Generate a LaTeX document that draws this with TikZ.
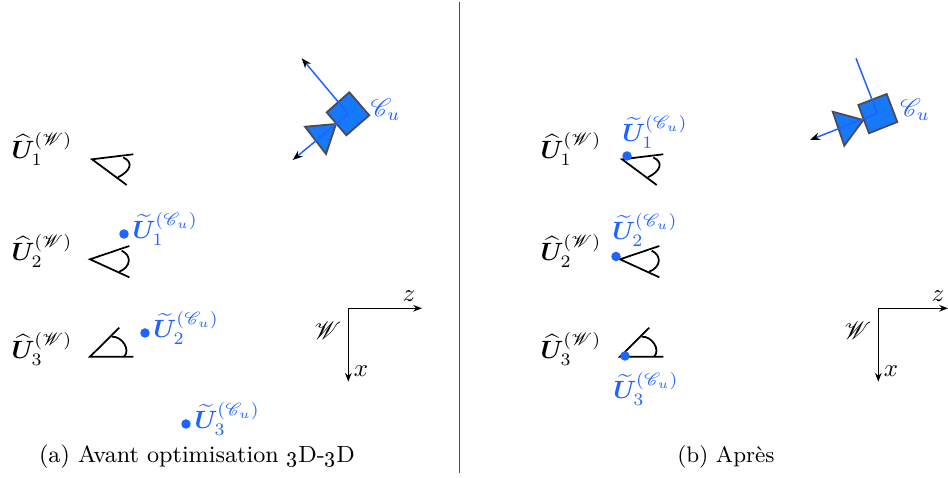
\documentclass[tikz,border=0pt]{standalone}
\usepackage{amsmath,amssymb}
\usepackage{bm}
\usepackage{mathrsfs}
\usepackage{xcolor}
\usepackage{tikz}
\usetikzlibrary{positioning,arrows.meta}
\definecolor{colPt}{RGB}{32,100,255}
\definecolor{colCam}{RGB}{22,120,250}
\definecolor{colEdge}{RGB}{75,75,80}
\newcommand{\UW}[1]{$\widehat{\bm{U}}_{#1}^{(\mathscr{W})}$}
\newcommand{\UC}[1]{$\widetilde{\bm{U}}_{#1}^{(\mathscr{C}_u)}$}

\begin{document}
\begin{tikzpicture}[
  x=0.4pt, y=-0.4pt,
  cam/.style={draw=colEdge, fill=colCam, line width=0.7pt, line join=miter},
  ray/.style={-{Stealth[length=4pt,black]}, colPt, line width=0.6pt},
  ax/.style={-{Stealth[length=3.5pt]}, black, line width=0.6pt},
  vis/.style={black, line width=0.7pt},
  ptdot/.style={circle, fill=colPt, inner sep=0pt, minimum size=3.8pt},
  lblU/.style={inner sep=0pt},
  lblC/.style={inner sep=0pt, text=colPt},
  capt/.style={inner sep=0pt, font=\small}
]
\useasboundingbox (0,0) rectangle (948,478);

\coordinate (sepT) at (459,2);
\coordinate (sepB) at (459,473);
\draw[colEdge, line width=0.4pt] (sepT) -- (sepB);

% panel (a)
\node[lblU] (ua1) at (42,149) {\UW{1}};
\node[lblU] (ua2) at (42,251) {\UW{2}};
\node[lblU] (ua3) at (42,349) {\UW{3}};

\draw[vis] (133.3,154.3) -- (92,159.3) -- (126.7,185);
\draw[vis] (123.3,157.5) .. controls (134.3,162.5) and (130,171.3) .. (118,177.3);
\draw[vis] (129.3,246) -- (90,259.3) -- (129.3,277.3);
\draw[vis] (121.7,250.7) .. controls (132,255.5) and (131,267) .. (119.3,271.7);
\draw[vis] (119.3,327.7) -- (90,356.7) -- (133.3,356.7);
\draw[vis] (111.7,336.7) .. controls (122,336) and (131,350) .. (124,356.7);

\node[ptdot] (pa1) at (124,234) {};
\node[ptdot] (pa2) at (145,333) {};
\node[ptdot] (pa3) at (186,424) {};
\node[lblC,right=3.2pt of pa1.center,anchor=west,yshift=2pt] (la1) {\UC{1}};
\node[lblC,right=3.2pt of pa2.center,anchor=west,yshift=2pt] (la2) {\UC{2}};
\node[lblC,right=3.2pt of pa3.center,anchor=west,yshift=2pt] (la3) {\UC{3}};

\coordinate (oa) at (348.3,114);
\coordinate (ra1) at (301.7,58.3);
\coordinate (ra2) at (292.7,160);
\draw[cam] (349.3,92.3) -- (369.3,115.3) -- (346.3,135.3) -- (326.7,112.3) -- cycle;
\draw[cam] (336,124) -- (305,126.7) -- (326,154) -- cycle;
\draw[ray] (oa) -- (ra1);
\draw[ray] (oa) -- (ra2);
\node[lblC] (cama) at (385.5,110) {$\mathscr{C}_u$};

\coordinate (wa) at (348.3,308.3);
\coordinate (wax) at (348.3,381.7);
\coordinate (waz) at (422,308.3);
\draw[ax] (wa) -- (wax);
\draw[ax] (wa) -- (waz);
\node[inner sep=0pt] (xa) at (361,371) {$x$};
\node[inner sep=0pt] (za) at (409,296) {$z$};
\node[inner sep=0pt] (ma) at (328,331) {$\mathscr{W}$};

\node[capt,font=\fontsize{9.4}{11}\selectfont] (capa) at (197,457) {(a) Avant optimisation \oldstylenums{3}D-\oldstylenums{3}D};

% panel (b)
\node[lblU] (ub1) at (571,149) {\UW{1}};
\node[lblU] (ub2) at (571,251) {\UW{2}};
\node[lblU] (ub3) at (571,349) {\UW{3}};

\draw[vis] (663.3,154.3) -- (622,159.3) -- (656.7,185);
\draw[vis] (653.3,157.5) .. controls (664.3,162.5) and (660,171.3) .. (648,177.3);
\draw[vis] (659.3,246) -- (620,259.3) -- (659.3,277.3);
\draw[vis] (651.7,250.7) .. controls (662,255.5) and (661,267) .. (649.3,271.7);
\draw[vis] (649.3,327.7) -- (620,356.7) -- (663.3,356.7);
\draw[vis] (641.7,336.7) .. controls (652,336) and (661,350) .. (654,356.7);

\node[ptdot] (pb1) at (627,156) {};
\node[ptdot] (pb2) at (616,256.5) {};
\node[ptdot] (pb3) at (625,356) {};
\node[lblC] (lb1) at (655,132) {\UC{1}};
\node[lblC] (lb2) at (645,230) {\UC{2}};
\node[lblC] (lb3) at (646,389) {\UC{3}};

\coordinate (ob) at (877.3,113.3);
\coordinate (rb1) at (856,58.3);
\coordinate (rb2) at (810,140);
\draw[cam] (886.7,94) -- (897.3,122) -- (869,133.3) -- (858.3,105) -- cycle;
\draw[cam] (863.3,120) -- (832.7,111.7) -- (844.3,145.7) -- cycle;
\draw[colPt, line width=0.6pt] (ob) -- (rb1);
\draw[ray] (ob) -- (rb2);
\node[lblC] (camb) at (915,110) {$\mathscr{C}_u$};

\coordinate (wb) at (878.3,308.3);
\coordinate (wbx) at (878.3,381.7);
\coordinate (wbz) at (948,308.3);
\draw[ax] (wb) -- (wbx);
\draw[ax] (wb) -- (wbz);
\node[inner sep=0pt] (xb) at (891,371) {$x$};
\node[inner sep=0pt] (zb) at (938,296) {$z$};
\node[inner sep=0pt] (mb) at (858,331) {$\mathscr{W}$};

\node[capt] (capb) at (726,457) {(b) Après};

\end{tikzpicture}
\end{document}
